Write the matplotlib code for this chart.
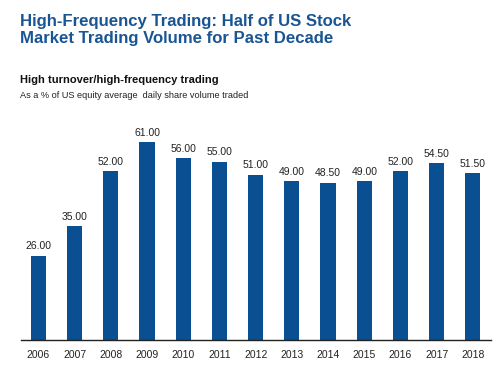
import matplotlib
matplotlib.use("Agg")
import matplotlib.pyplot as plt

years = ["2006", "2007", "2008", "2009", "2010", "2011", "2012",
         "2013", "2014", "2015", "2016", "2017", "2018"]
values = [26.0, 35.0, 52.0, 61.0, 56.0, 55.0, 51.0,
          49.0, 48.5, 49.0, 52.0, 54.5, 51.5]

title = "High-Frequency Trading: Half of US Stock\nMarket Trading Volume for Past Decade"
subtitle = "High turnover/high-frequency trading"
note = "As a % of US equity average  daily share volume traded"

plt.rcParams['font.family'] = ['Liberation Sans', 'DejaVu Sans']

fig = plt.figure(figsize=(5.0, 3.74), dpi=100)
ax = fig.add_axes([0.042, 0.0909, 0.94, 0.615])

x = list(range(len(years)))
bars = ax.bar(x, values, width=0.42, color="#0a4f92")
for xi, v in zip(x, values):
    ax.text(xi, v + 1.3, f"{v:.2f}", ha="center", va="bottom",
            fontsize=7.5, color="#222222")

ax.set_xlim(-0.48, 12.5)
ax.set_ylim(0, 70.9)
ax.set_xticks(x)
ax.set_xticklabels(years, fontsize=7.5, color="#222222")
ax.tick_params(axis="x", length=0, pad=7)
ax.set_yticks([])
for s in ["top", "right", "left"]:
    ax.spines[s].set_visible(False)
ax.spines["bottom"].set_color("#222222")
ax.spines["bottom"].set_linewidth(1.0)

fig.text(0.04, 0.963, title, ha="left", va="top", fontsize=12.1,
         fontweight="bold", color="#1a5593", linespacing=1.22)
fig.text(0.04, 0.785, subtitle, ha="left", va="center", fontsize=8,
         fontweight="bold", color="#111111")
fig.text(0.04, 0.744, note, ha="left", va="center", fontsize=6.6,
         color="#222222")

fig.savefig("out.png", dpi=100)
